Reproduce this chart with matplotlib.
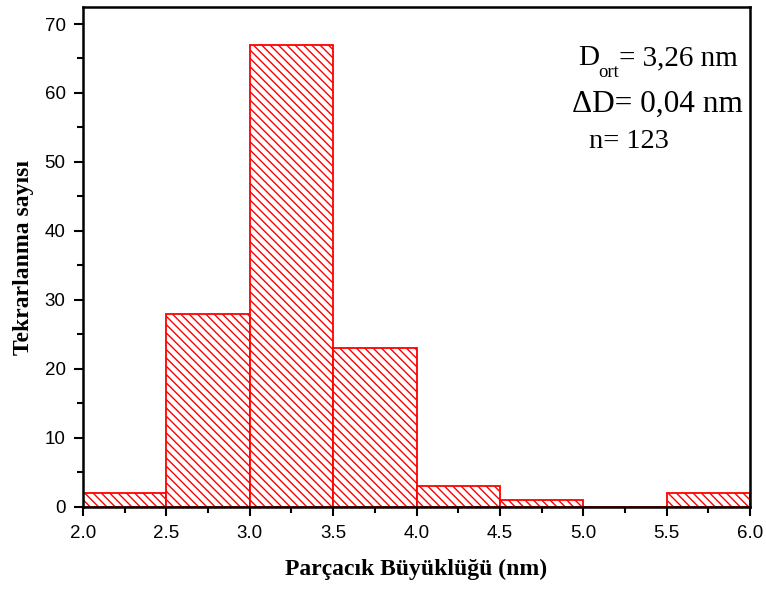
import matplotlib
matplotlib.use("Agg")
import matplotlib.pyplot as plt
from matplotlib.ticker import MultipleLocator

# Particle size histogram (bin edges in nm, counts per bin)
bin_left = [2.0, 2.5, 3.0, 3.5, 4.0, 4.5, 5.0, 5.5]
bin_width = 0.5
counts = [2, 28, 67, 23, 3, 1, 0, 2]

x_ticks = [2.0, 2.5, 3.0, 3.5, 4.0, 4.5, 5.0, 5.5, 6.0]
y_ticks = [0, 10, 20, 30, 40, 50, 60, 70]

plt.rcParams["hatch.color"] = "red"
plt.rcParams["hatch.linewidth"] = 1.0

fig = plt.figure(figsize=(7.66, 5.90), dpi=100)
ax = fig.add_axes([0.1084, 0.1415, 0.8707, 0.8458])

ax.bar(bin_left, counts, width=bin_width, align="edge",
       facecolor="white", edgecolor="red", linewidth=1.3, hatch="\\\\\\\\")

ax.set_xlim(2.0, 6.0)
ax.set_ylim(0, 72.4)
ax.set_xticks(x_ticks)
ax.set_xticklabels([f"{v:.1f}" for v in x_ticks])
ax.set_yticks(y_ticks)
ax.xaxis.set_minor_locator(MultipleLocator(0.25))
ax.yaxis.set_minor_locator(MultipleLocator(5))

sans = ["Liberation Sans", "DejaVu Sans"]
for lab in ax.get_xticklabels() + ax.get_yticklabels():
    lab.set_fontfamily(sans)
    lab.set_fontsize(13.5)

ax.tick_params(which="major", direction="out", length=6.5, width=1.5)
ax.tick_params(axis="y", which="major", pad=6)
ax.tick_params(axis="x", which="major", pad=7)
ax.tick_params(which="minor", direction="out", length=4.3, width=1.5)
for side in ax.spines.values():
    side.set_linewidth(1.8)

label_font = dict(family=["Liberation Serif", "DejaVu Serif"], weight="bold", size=17)
ax.set_xlabel("Parçacık Büyüklüğü (nm)", labelpad=12, **label_font)
ax.set_ylabel("Tekrarlanma sayısı", labelpad=8, **label_font)

serif = ["Liberation Serif", "DejaVu Serif"]

# First line: "D" with a lowered "ort" subscript, then "= 3,26 nm"
fig.canvas.draw()
renderer = fig.canvas.get_renderer()
W, H = fig.bbox.width, fig.bbox.height

t_rest = ax.text(0.981, 0.885, "= 3,26 nm", transform=ax.transAxes,
                 ha="right", va="baseline", family=serif, size=21)
x_rest = t_rest.get_window_extent(renderer).x0
y_base = ax.transAxes.transform((0, 0.885))[1]

t_sub = fig.text(x_rest / W, (y_base - 12) / H, "ort", ha="right", va="baseline",
                 family=serif, size=13.5)
x_sub = t_sub.get_window_extent(renderer).x0
fig.text((x_sub + 1) / W, y_base / H, "D", ha="right", va="baseline",
         family=serif, size=21)

ax.text(0.99, 0.79, "ΔD= 0,04 nm", transform=ax.transAxes,
        ha="right", va="baseline", family=serif, size=22.5)
ax.text(0.759, 0.718, "n= 123", transform=ax.transAxes,
        ha="left", va="baseline", family=serif, size=20.5)

fig.savefig("out.png", dpi=100)
